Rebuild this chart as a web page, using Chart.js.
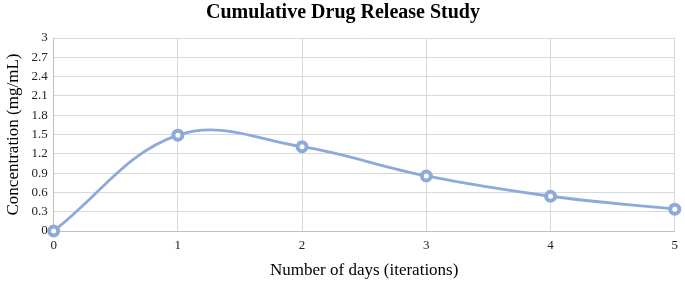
<!DOCTYPE html>
<html><head><meta charset="utf-8">
<script src="https://cdn.jsdelivr.net/npm/chart.js@4/dist/chart.umd.min.js"></script>
<style>html,body{margin:0;padding:0;background:#fff}#wrap{width:685px;height:281px}</style>
</head><body><div id="wrap"><canvas id="c" width="685" height="281"></canvas></div>
<script>
const days = [0, 1, 2, 3, 4, 5];
const concentration = [0, 1.49, 1.31, 0.855, 0.54, 0.34];
const yTicks = [0, 0.3, 0.6, 0.9, 1.2, 1.5, 1.8, 2.1, 2.4, 2.7, 3];
const lineColor = '#8eaadb';
new Chart(document.getElementById('c'), {
  type: 'line',
  data: {
    datasets: [{
      data: days.map((d, i) => ({x: d, y: concentration[i]})),
      borderColor: lineColor,
      borderWidth: 2.8,
      pointRadius: 4.5,
      pointBorderWidth: 4,
      pointBackgroundColor: '#fff',
      pointBorderColor: lineColor,
      tension: 0.38,
      clip: false
    }]
  },
  options: {
    responsive: false,
    animation: false,
    layout: {padding: {left: 3, right: 2, top: 1, bottom: 0}},
    plugins: {
      legend: {display: false},
      tooltip: {enabled: false},
      title: {display: true, text: 'Cumulative Drug Release Study', color: '#000',
        font: {family: 'Liberation Serif', size: 20, weight: 'bold'}, padding: {top: 0, bottom: 13}}
    },
    scales: {
      x: {
        type: 'linear', min: 0, max: 5,
        ticks: {stepSize: 1, color: '#222', font: {family: 'Liberation Serif', size: 13}, padding: 7},
        grid: {color: '#d9d9d9', drawTicks: false},
        border: {color: '#bfbfbf'},
        title: {display: true, text: 'Number of days (iterations)', color: '#000',
          font: {family: 'Liberation Serif', size: 17}, padding: {top: 0, bottom: 0}}
      },
      y: {
        min: 0, max: 3,
        afterBuildTicks: a => { a.ticks = yTicks.map(v => ({value: v})); },
        ticks: {color: '#222', font: {family: 'Liberation Serif', size: 13}, padding: 6,
          callback: v => String(v)},
        grid: {color: '#d9d9d9', drawTicks: false},
        border: {color: '#bfbfbf'},
        title: {display: true, text: 'Concentration (mg/mL)', color: '#000',
          font: {family: 'Liberation Serif', size: 17}, padding: {top: 0, bottom: 2}}
      }
    }
  }
});
</script></body></html>
